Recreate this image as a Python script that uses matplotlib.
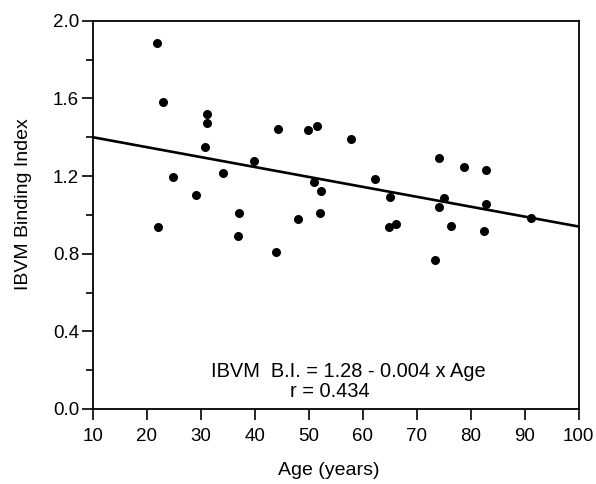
import numpy as np
import matplotlib.pyplot as plt
from matplotlib.ticker import MultipleLocator

# ages and binding index
age = [21.8, 22.9, 31.2, 31.2, 30.7, 44.2, 39.9, 24.9, 34.0, 29.0,
       37.0, 22.0, 36.9, 47.9, 43.9, 49.9, 51.5, 57.9, 74.1, 78.8,
       82.8, 62.2, 51.0, 52.2, 65.0, 75.1, 74.1, 82.9, 91.1, 52.0,
       64.9, 66.2, 76.4, 82.5, 73.3]
binding = [1.885, 1.584, 1.519, 1.473, 1.351, 1.442, 1.278, 1.197, 1.218, 1.105,
           1.009, 0.937, 0.892, 0.978, 0.808, 1.436, 1.457, 1.392, 1.295, 1.247,
           1.232, 1.184, 1.168, 1.125, 1.091, 1.089, 1.043, 1.055, 0.985, 1.012,
           0.940, 0.954, 0.942, 0.919, 0.768]

# regression line as drawn
fit_x = [10, 100]
fit_y = [1.40, 0.94]

plt.rcParams['font.family'] = ['Liberation Sans', 'DejaVu Sans']

fig = plt.figure(figsize=(5.96, 4.84), dpi=100)
ax = fig.add_axes([0.156, 0.155, 0.815, 0.802])

ax.plot(age, binding, 'o', color='black', markersize=6.5, markeredgewidth=0)
ax.plot(fit_x, fit_y, color='black', lw=1.9)

ax.set_xlim(10, 100)
ax.set_ylim(0.0, 2.0)
ax.xaxis.set_major_locator(MultipleLocator(10))
ax.yaxis.set_major_locator(MultipleLocator(0.4))
ax.yaxis.set_minor_locator(MultipleLocator(0.2))
ax.yaxis.set_major_formatter(plt.FormatStrFormatter('%.1f'))

ax.tick_params(axis='both', which='major', direction='out', length=8, width=1.2,
               labelsize=13.5, colors='black')
ax.tick_params(axis='y', which='minor', direction='out', length=5, width=1.2)
ax.tick_params(axis='x', pad=6)
ax.tick_params(axis='y', pad=2)
for s in ax.spines.values():
    s.set_linewidth(1.3)

ax.set_xlabel('Age (years)', fontsize=14, va='top')
ax.xaxis.set_label_coords(0.486, -0.137)
ax.set_ylabel('IBVM Binding Index', fontsize=14)
ax.yaxis.set_label_coords(-0.126, 0.528)

ax.text(31.8, 0.165, 'IBVM  B.I. = 1.28 - 0.004 x Age', fontsize=14.4)
ax.text(46.5, 0.063, 'r = 0.434', fontsize=14.4)

fig.savefig('out.png', dpi=100)
